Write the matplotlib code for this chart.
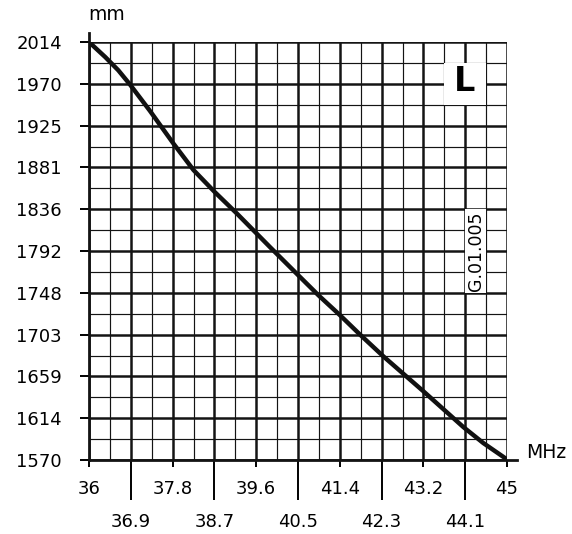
import numpy as np
import matplotlib.pyplot as plt
from matplotlib.patches import Rectangle

plt.rcParams['font.family'] = ['DejaVu Sans']

# curve: frequency (MHz) vs length (mm)
freq = [36.0, 36.35, 36.63, 36.88, 37.31, 37.82, 38.25, 38.70, 39.18, 39.60,
        39.90, 40.47, 40.94, 41.40, 41.84, 42.34, 43.20, 44.06, 44.49, 44.96, 45.0]
length = [2014, 1998, 1984, 1969, 1941, 1906, 1878, 1855, 1832, 1811,
          1796, 1768, 1745, 1724, 1703, 1680, 1643, 1605, 1588, 1572, 1570]

x_major = [36, 37.8, 39.6, 41.4, 43.2, 45]
x_major_labels = ['36', '37.8', '39.6', '41.4', '43.2', '45']
x_minor = [36.9, 38.7, 40.5, 42.3, 44.1]
x_minor_labels = ['36.9', '38.7', '40.5', '42.3', '44.1']
y_labels = ['1570', '1614', '1659', '1703', '1748', '1792',
            '1836', '1881', '1925', '1970', '2014']

x_min, x_max = 36, 45
y_min, y_max = 1570, 2014

fig = plt.figure(figsize=(5.72, 5.34), dpi=100)
ax = fig.add_axes([89/572, 1 - 460/534, 418/572, 418/534])
ax.set_xlim(x_min, x_max)
ax.set_ylim(y_min, y_max)

# grid: thick every 0.9 MHz / 44.4 mm, thin in between
xg = np.linspace(x_min, x_max, 21)
yg = np.linspace(y_min, y_max, 21)
for i, x in enumerate(xg):
    ax.axvline(x, color='#141414', lw=1.8 if i % 2 == 0 else 0.85, zorder=1)
for i, y in enumerate(yg):
    ax.axhline(y, color='#141414', lw=1.8 if i % 2 == 0 else 0.85, zorder=1)

# white boxes for the labels inside the grid
ax.add_patch(Rectangle((43.65, yg[17]), 0.9, yg[19] - yg[17],
                       facecolor='white', edgecolor='none', zorder=2))
ax.text(44.08, yg[18] + 2, 'L', fontsize=24, fontweight='bold',
        ha='center', va='center', zorder=3)
ax.add_patch(Rectangle((44.1, yg[8]), 0.45, yg[12] - yg[8],
                       facecolor='white', edgecolor='none', zorder=2))
ax.text(44.33, yg[10], 'G.01.005', fontsize=12.5, rotation=90,
        ha='center', va='center', zorder=3)

ax.plot(freq, length, color='#111111', lw=3.2, zorder=4,
        solid_capstyle='round', solid_joinstyle='round')

for s in ax.spines.values():
    s.set_visible(False)
# axis lines running a little past the grid
ax.plot([0, 0], [0, 1.022], transform=ax.transAxes, color='#141414',
        lw=2, clip_on=False, zorder=5)
ax.plot([0, 1.025], [0, 0], transform=ax.transAxes, color='#141414',
        lw=2, clip_on=False, zorder=5)

ax.set_yticks(np.linspace(y_min, y_max, 11), labels=y_labels)
ax.set_xticks(x_major, labels=x_major_labels)
ax.set_xticks(x_minor, labels=x_minor_labels, minor=True)
ax.tick_params(axis='y', length=6.5, width=1.4, pad=13, labelsize=13)
ax.tick_params(axis='x', which='major', length=5, width=1.4, pad=9.5,
               labelsize=13)
ax.tick_params(axis='x', which='minor', length=29, width=1.4, pad=9.5,
               labelsize=13)

fig.text(107/572, 1 - 15/534, 'mm', fontsize=13.5, ha='center', va='center')
fig.text(546/572, 1 - 453/534, 'MHz', fontsize=13.5, ha='center', va='center')

plt.savefig('out.png', dpi=100)
